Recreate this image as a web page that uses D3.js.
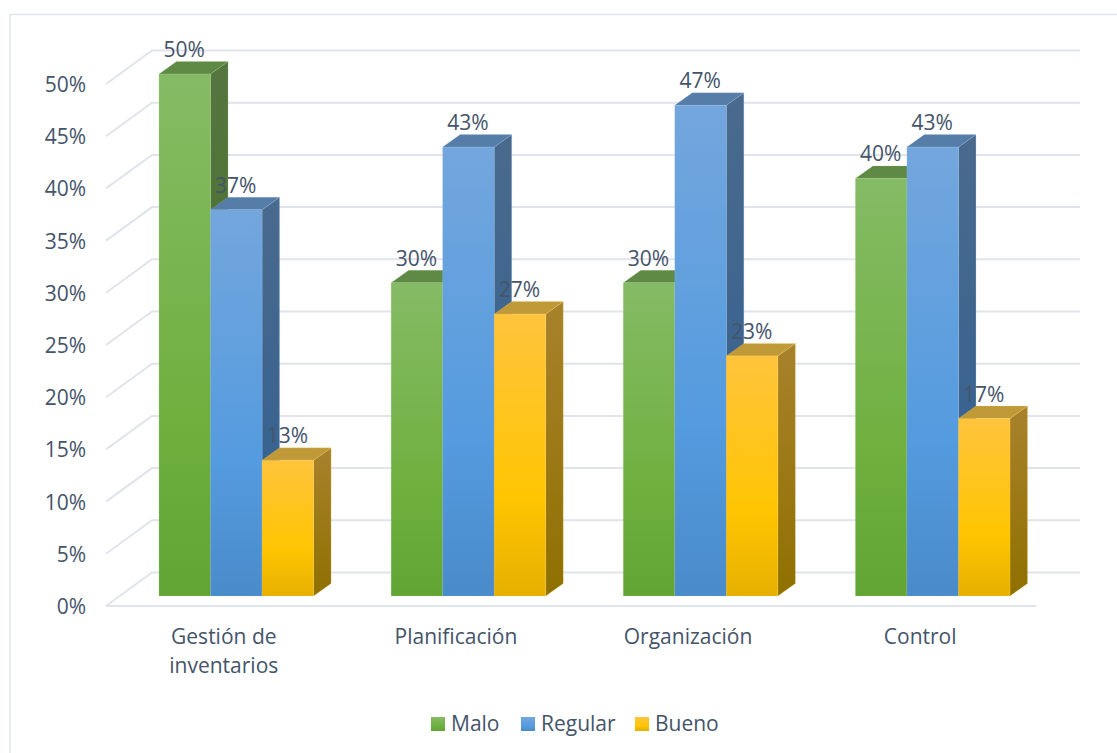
<!DOCTYPE html>
<html><head><meta charset="utf-8">
<script src="https://cdn.jsdelivr.net/npm/d3@7"></script>
<style>html,body{margin:0;padding:0;background:#fff}svg{display:block}text{font-family:"Open Sans",sans-serif;fill:#44546a}</style>
</head><body><script>
const categories=[["Gestión de","inventarios"],["Planificación"],["Organización"],["Control"]];
const seriesNames=["Malo","Regular","Bueno"];
const malo=[50,30,30,40];
const regular=[37,43,47,43];
const bueno=[13,27,23,17];
const seriesValues=[malo,regular,bueno];
const tickValues=[0,5,10,15,20,25,30,35,40,45,50];
const palette=[
 {hi:"#85bb65",mid:"#6fb03f",lo:"#62a535",top:"#5f8a45",sideHi:"#55763f",sideLo:"#426e25",edge:"#a9d18e"},
 {hi:"#73a6dd",mid:"#549bdf",lo:"#4a8bca",top:"#557da8",sideHi:"#4a6a8d",sideLo:"#2f5f92",edge:"#9dc3e6"},
 {hi:"#ffc43c",mid:"#ffc502",lo:"#e6b000",top:"#c09a38",sideHi:"#a8822c",sideLo:"#8f7000",edge:"#ffd966"}];
const W=1117,H=753,depthX=17.5,depthY=12.5,fs=21;
const svg=d3.select("body").append("svg").attr("width",W).attr("height",H);
const defs=svg.append("defs");
palette.forEach((p,i)=>{
 const f=defs.append("linearGradient").attr("id","f"+i).attr("x1",0).attr("y1",0).attr("x2",0).attr("y2",1);
 f.append("stop").attr("offset",0).attr("stop-color",p.hi);
 f.append("stop").attr("offset",.65).attr("stop-color",p.mid);
 f.append("stop").attr("offset",1).attr("stop-color",p.lo);
 const s=defs.append("linearGradient").attr("id","s"+i).attr("x1",0).attr("y1",0).attr("x2",0).attr("y2",1);
 s.append("stop").attr("offset",0).attr("stop-color",p.sideHi);
 s.append("stop").attr("offset",1).attr("stop-color",p.sideLo);
});
const y=d3.scaleLinear().domain([0,50]).range([596,74]);
const x0=d3.scaleBand().domain(categories.map(c=>c.join(" "))).range([159,1010]).paddingInner(.334).paddingOuter(0);
const x1=d3.scaleBand().domain(seriesNames).range([0,x0.bandwidth()]);
svg.append("path").attr("d","M10 753V14.5H1117").attr("fill","none").attr("stroke","#e1e5ec").attr("stroke-width",1.5);
const grid=svg.append("g").attr("stroke","#e1e4ec").attr("stroke-width",2).attr("fill","none");
tickValues.forEach(t=>{
 const yb=y(t)-23.5, yf=y(t)+10;
 grid.append("path").attr("d",`M106 ${yf}L152 ${yb}H1080`);
});
grid.append("path").attr("d",`M106 ${y(0)+10}H1036`);
svg.append("g").selectAll("text").data(tickValues).join("text")
 .attr("x",86).attr("y",t=>y(t)+9.5+8.5).attr("text-anchor","end").attr("font-size",fs)
 .text(t=>t+"%");
const g=svg.append("g");
categories.forEach((c,ci)=>{
 seriesNames.forEach((s,si)=>{
  const v=seriesValues[si][ci],l=x0(c.join(" "))+x1(s),w=x1.bandwidth(),t=y(v),b=y(0);
  const bar=g.append("g").attr("stroke",palette[si].edge).attr("stroke-width",.6).attr("stroke-opacity",.35);
  bar.append("path").attr("d",`M${l+w} ${t}l${depthX} ${-depthY}V${b-depthY}l${-depthX} ${depthY}Z`).attr("fill",`url(#s${si})`);
  bar.append("path").attr("d",`M${l} ${t}l${depthX} ${-depthY}h${w}l${-depthX} ${depthY}Z`).attr("fill",palette[si].top);
  bar.append("rect").attr("x",l).attr("y",t).attr("width",w).attr("height",b-t).attr("fill",`url(#f${si})`);
 });
});
categories.forEach((c,ci)=>{
 seriesNames.forEach((s,si)=>{
  const v=seriesValues[si][ci],l=x0(c.join(" "))+x1(s),w=x1.bandwidth();
  svg.append("text").attr("x",l+w/2-.5).attr("y",y(v)-17).attr("text-anchor","middle").attr("font-size",fs).text(v+"%");
 });
});
categories.forEach(c=>{
 const cx=x0(c.join(" "))+x0.bandwidth()/2-12.5;
 c.forEach((ln,i)=>svg.append("text").attr("x",cx).attr("y",644+i*29).attr("text-anchor","middle").attr("font-size",fs).text(ln));
});
const lx=[431,521,635],tx=[451,541,655];
seriesNames.forEach((s,i)=>{
 svg.append("rect").attr("x",lx[i]).attr("y",717).attr("width",14).attr("height",14).attr("fill",`url(#f${i})`);
 svg.append("text").attr("x",tx[i]).attr("y",731).attr("font-size",fs).text(s);
});
</script></body></html>
